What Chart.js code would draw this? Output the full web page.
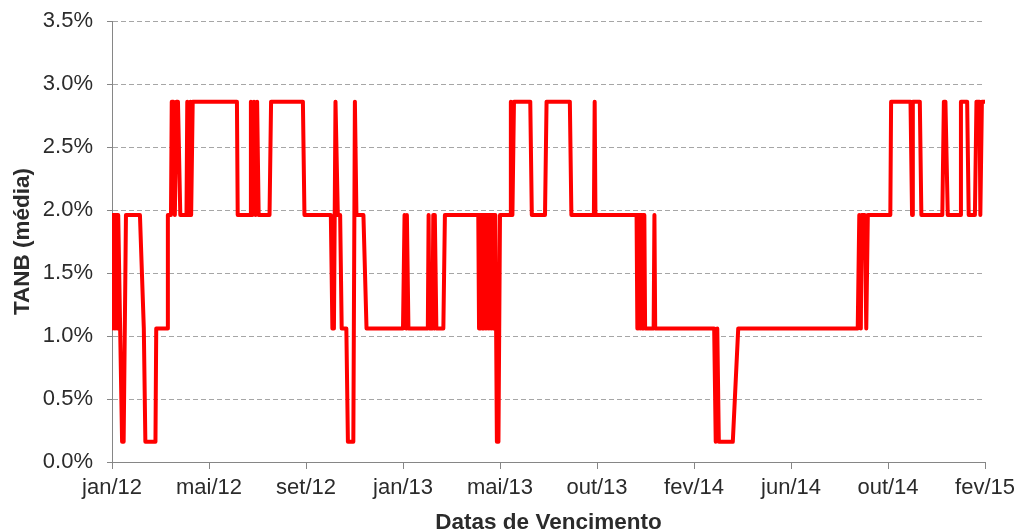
<!DOCTYPE html>
<html><head><meta charset="utf-8">
<script src="https://cdn.jsdelivr.net/npm/chart.js@4"></script>
<style>html,body{margin:0;padding:0;background:#fff}canvas{display:block}</style>
</head><body>
<canvas id="c" width="1019" height="531"></canvas>
<script>
// Tick labels of the date axis
const tickLabels = ['jan/12','mai/12','set/12','jan/13','mai/13','out/13','fev/14','jun/14','out/14','fev/15'];

// Maturities (days since 2012-01-01)
const vencimentos = [
  15,16,17,18,19,20,21,22,23,28,30,33,51,56,58,71,72,86,87,91,92,94,96,98,100,103,111,112,114,116,117,119,
  176,177,193,194,196,198,200,202,204,218,220,261,263,297,299,301,303,306,309,311,317,319,326,328,330,339,343,
  390,392,394,395,397,422,423,424,428,429,430,431,433,442,444,
  487,488,489,490,491,492,493,494,495,496,497,498,499,500,501,502,503,504,505,506,507,508,509,510,511,513,515,
  528,529,531,533,554,556,573,575,605,607,
  636,637,638,691,692,693,694,695,696,697,698,699,700,701,702,713,714,715,791,793,795,797,815,822,
  976,978,980,981,985,987,989,1018,1019,1044,1046,1047,1056,1058,1085,1087,1089,1092,1108,1109,1117,1119,
  1127,1129,1133,1134,1136,1140
];

// TANB (média), %
const tanb = [
  1.96,1.06,1.96,1.06,1.96,1.06,1.96,1.06,1.96,0.16,0.16,1.96,1.96,1.06,0.16,0.16,1.06,1.06,1.96,1.96,2.86,2.86,1.96,2.86,2.86,1.96,1.96,2.86,1.96,2.86,1.96,2.86,
  2.86,1.96,1.96,2.86,1.96,2.86,1.96,2.86,1.96,1.96,2.86,2.86,1.96,1.96,1.06,1.06,2.86,1.96,1.96,1.06,1.06,0.16,0.16,2.86,1.96,1.96,1.06,
  1.06,1.96,1.06,1.96,1.06,1.06,1.96,1.06,1.06,1.96,1.06,1.96,1.06,1.06,1.96,
  1.96,1.06,1.96,1.06,1.96,1.06,1.96,1.06,1.96,1.06,1.96,1.06,1.96,1.06,1.96,1.06,1.96,1.06,1.96,1.06,1.96,1.06,1.96,1.06,0.16,0.16,1.96,
  1.96,2.86,1.96,2.86,2.86,1.96,1.96,2.86,2.86,1.96,
  1.96,2.86,1.96,1.96,1.06,1.96,1.06,1.96,1.06,1.96,1.06,1.96,1.06,1.96,1.06,1.06,1.96,1.06,1.06,0.16,1.06,0.16,0.16,1.06,
  1.06,1.96,1.06,1.96,1.96,1.06,1.96,1.96,2.86,2.86,1.96,2.86,2.86,1.96,1.96,2.86,2.86,1.96,1.96,2.86,2.86,1.96,
  1.96,2.86,2.86,1.96,2.86,2.86
];

const points = vencimentos.map((d, i) => ({ x: d, y: tanb[i] }));
const axisStart = 15, axisStep = 125;
const FONT = "'Liberation Sans', Arial, sans-serif";
const TXT = '#2b2b2b';
const AXIS = '#868686';

new Chart(document.getElementById('c'), {
  type: 'line',
  data: { datasets: [{
    data: points,
    borderColor: '#ff0000',
    borderWidth: 4,
    pointRadius: 0,
    tension: 0,
    borderJoinStyle: 'round',
    borderCapStyle: 'round',
    fill: false
  }]},
  options: {
    responsive: false,
    animation: false,
    devicePixelRatio: 1,
    layout: { padding: { left: 9, right: 34, top: 21, bottom: 0 } },
    plugins: { legend: { display: false }, tooltip: { enabled: false } },
    scales: {
      x: {
        type: 'linear',
        min: axisStart,
        max: axisStart + axisStep * (tickLabels.length - 1),
        afterBuildTicks: s => { s.ticks = tickLabels.map((_, i) => ({ value: axisStart + axisStep * i })); },
        afterFit: s => { s.height = 69; s.paddingLeft = 0; s.paddingRight = 0; },
        ticks: {
          callback: (v, i) => tickLabels[i],
          autoSkip: false, maxRotation: 0, minRotation: 0,
          color: TXT, font: { family: FONT, size: 22 }, padding: 6
        },
        grid: { drawOnChartArea: false, tickLength: 7, tickColor: AXIS, color: AXIS },
        border: { color: AXIS, width: 1 },
        title: {
          display: true, text: 'Datas de Vencimento', color: TXT, padding: 0,
          font: { family: FONT, size: 22.5, weight: 'bold', lineHeight: 0.7 }
        }
      },
      y: {
        min: 0, max: 3.5,
        afterFit: s => { s.width = 103; s.paddingTop = 0; s.paddingBottom = 0; },
        ticks: {
          stepSize: 0.5,
          callback: v => v.toFixed(1) + '%',
          color: TXT, font: { family: FONT, size: 22 }, padding: 14
        },
        grid: {
          color: c => (c.tick && c.tick.value === 0) ? 'rgba(0,0,0,0)' : '#a6a6a6',
          tickLength: 5, tickColor: AXIS
        },
        border: { color: AXIS, width: 1, dash: [5, 3] },
        title: {
          display: true, text: 'TANB (média)', color: TXT, padding: 0,
          font: { family: FONT, size: 22.5, weight: 'bold' }
        }
      }
    }
  }
});
</script>
</body></html>
